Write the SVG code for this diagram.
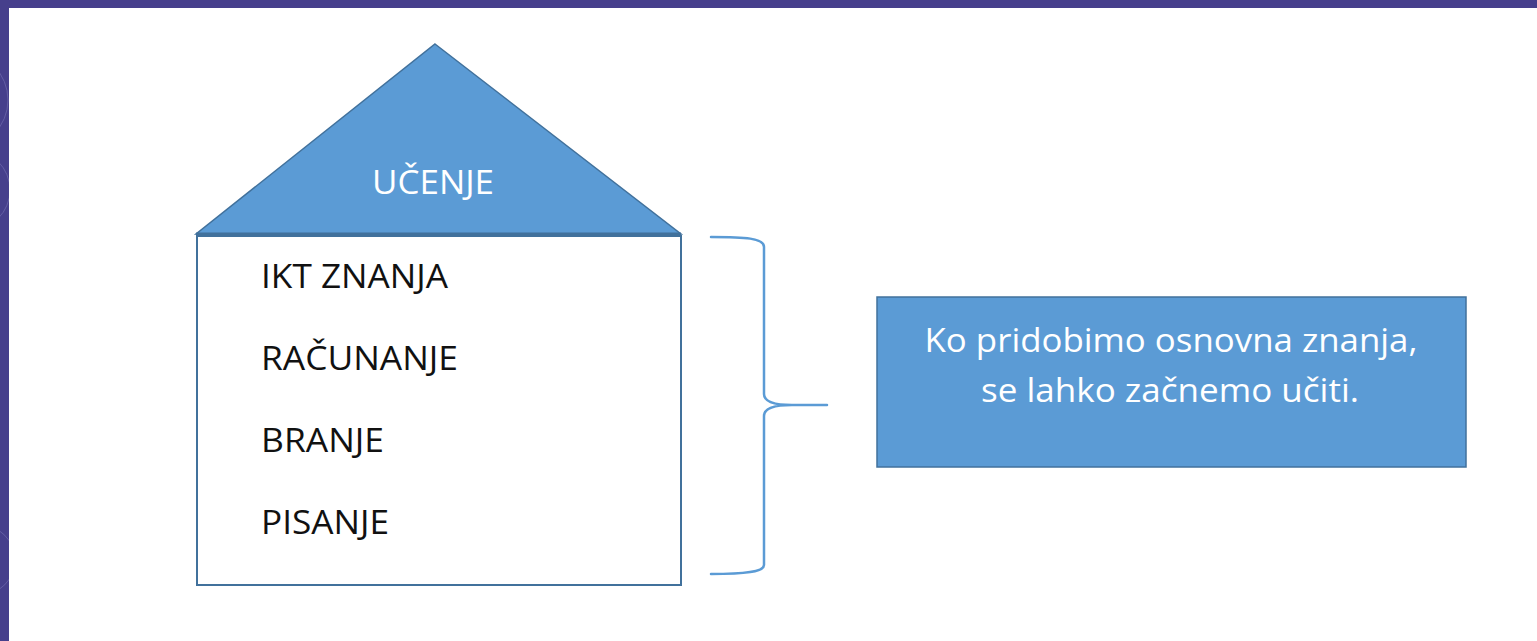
<svg xmlns="http://www.w3.org/2000/svg" width="1537" height="641" viewBox="0 0 1537 641">
<style>
.bar{fill:#463F8C}
.shape{fill:#5B9BD5;stroke:#41719C;stroke-width:1.5}
.box{fill:#FFFFFF;stroke:#41719C;stroke-width:2}
.lbl{font-family:"Open Sans","Noto Sans","Liberation Sans",sans-serif;font-size:32px}
.dark{fill:#111111}
.white{fill:#FFFFFF}
.deco{fill:none;stroke:#6F69AE;stroke-width:1;opacity:0.7}
.brace{fill:none;stroke:#5B9BD5;stroke-width:2.5;stroke-linecap:round;stroke-linejoin:round}
</style>
<defs>
<clipPath id="leftbar"><rect x="0" y="0" width="9" height="641"/></clipPath>
</defs>
<rect x="0" y="0" width="1537" height="641" fill="#FFFFFF"/>
<g id="frame">
<rect class="bar" x="0" y="0" width="1537" height="8"/>
<rect class="bar" x="0" y="0" width="9" height="641"/>
<g clip-path="url(#leftbar)">
<circle class="deco" cx="-40" cy="100" r="48"/>
<circle class="deco" cx="-30" cy="190" r="40"/>
<circle class="deco" cx="-20" cy="560" r="35"/>
</g>
</g>
<g id="roof">
<polygon class="shape" points="435,44 681,234 196,234"/>
<line x1="196" y1="234" x2="681" y2="234" stroke="#41719C" stroke-width="3"/>
<text class="lbl white" x="433" y="194" text-anchor="middle" textLength="122" lengthAdjust="spacingAndGlyphs">UČENJE</text>
</g>
<g id="house">
<rect class="box" x="197" y="236" width="484" height="349"/>
<text class="lbl dark" x="261" y="288" textLength="187" lengthAdjust="spacingAndGlyphs">IKT ZNANJA</text>
<text class="lbl dark" x="261" y="370" textLength="197" lengthAdjust="spacingAndGlyphs">RAČUNANJE</text>
<text class="lbl dark" x="261" y="452" textLength="123" lengthAdjust="spacingAndGlyphs">BRANJE</text>
<text class="lbl dark" x="261" y="534" textLength="128" lengthAdjust="spacingAndGlyphs">PISANJE</text>
</g>
<g id="connectors">
<path class="brace" d="M711,237 C745,237 764,238 764,247 L764,394 C764,401 772,405 792,405 L827,405 M792,405 C772,405 764,409 764,416 L764,565 C764,572 745,574 711,574"/>
</g>
<g id="note">
<rect class="shape" x="877" y="297" width="589" height="170"/>
<text class="lbl white" x="1171" y="352" text-anchor="middle" textLength="493" lengthAdjust="spacingAndGlyphs">Ko pridobimo osnovna znanja,</text>
<text class="lbl white" x="1170" y="402" text-anchor="middle" textLength="378" lengthAdjust="spacingAndGlyphs">se lahko začnemo učiti.</text>
</g>
</svg>
